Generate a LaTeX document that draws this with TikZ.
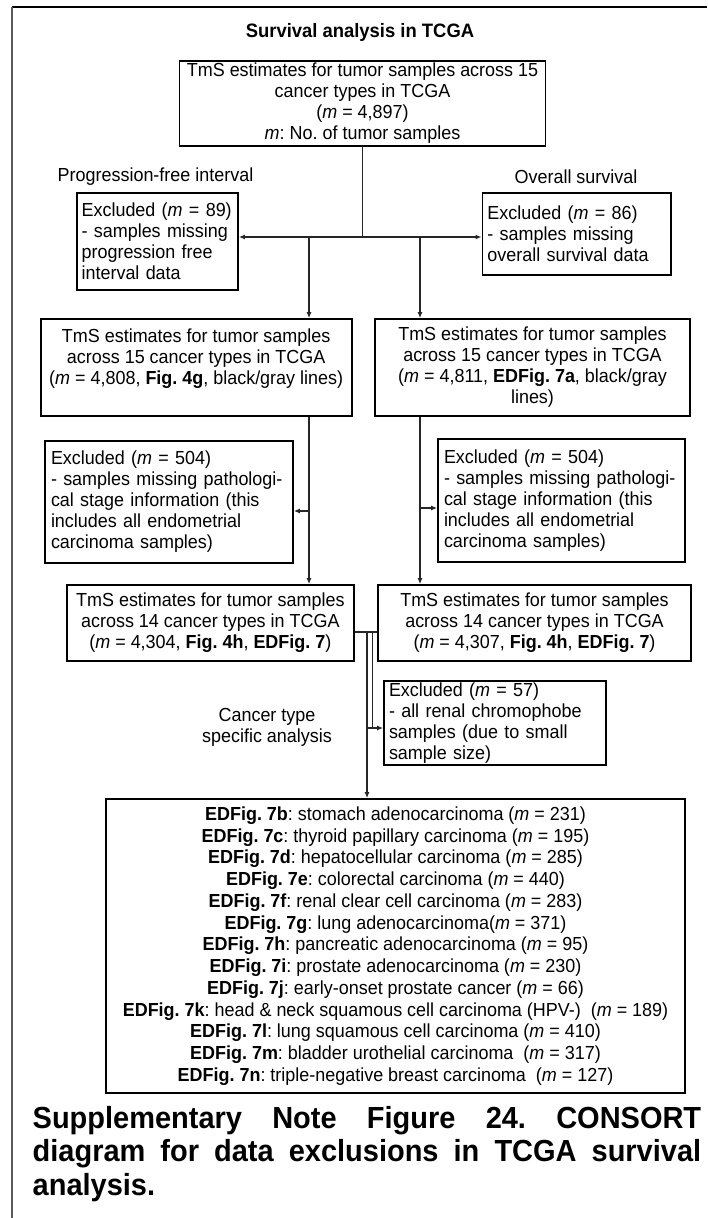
\documentclass[tikz,border=0pt]{standalone}
\usepackage{fontspec}
\setmainfont{Liberation Sans}[FakeStretch=0.95]
\usetikzlibrary{arrows.meta}
\frenchspacing
\begin{document}
\begin{tikzpicture}[x=1pt,y=-1pt,
  every node/.style={inner sep=0pt, font=\fontsize{18.9}{21}\selectfont},
  lbl/.style={align=center},
  box/.style={draw=black, line width=1.8pt, align=center},
  lbox/.style={draw=black, line width=1.8pt, align=left, inner xsep=5pt},
  link/.style={line width=1.2pt, draw=black!85},
  arr/.style={link, -{Latex[length=6pt,width=5pt]}},
]
\useasboundingbox (0,0) rectangle (707,1218);

% outer frame (top and left edges)
\draw[line width=2pt] (12,6.5) -- (707,6.5);
\draw[line width=2.5pt, black!65] (12,6.5) -- (12,1218);

% heading and branch labels
\node[font=\bfseries\fontsize{19.4}{21}\selectfont] (title) at (360,32) {Survival analysis in TCGA};
\node[lbl] (pfilab) at (155.5,177) {Progression-free interval};
\node[lbl] (oslab) at (576,177) {Overall survival};

% all samples
\node[box, minimum width=366pt, minimum height=85pt] (top) at (362.5,103.5)
  {TmS estimates for tumor samples across 15\\cancer types in TCGA\\(\textit{m} = 4,897)\\\textit{m}: No. of tumor samples};

% first exclusions
\node[lbox, minimum width=161.4pt, minimum height=97pt, text width=151.4pt] (ex89) at (157.3,241.5)
  {Excluded (\textit{m} = 89)\\- samples missing\\progression free\\interval data};
\node[lbox, minimum width=188.6pt, minimum height=82pt, text width=178.6pt] (ex86) at (576.7,234)
  {Excluded (\textit{m} = 86)\\- samples missing\\overall survival data};

% 15 cancer types
\node[box, minimum width=311.1pt, minimum height=97pt] (pfi) at (196.15,367.5)
  {TmS estimates for tumor samples\\across 15 cancer types in TCGA\\(\textit{m} = 4,808, \textbf{Fig. 4g}, black/gray lines)\\\mbox{}};
\node[box, minimum width=315pt, minimum height=97pt] (os) at (532.5,367.5)
  {TmS estimates for tumor samples\\across 15 cancer types in TCGA\\(\textit{m} = 4,811, \textbf{EDFig. 7a}, black/gray\\lines)};

% stage exclusions
\node[lbox, minimum width=248pt, minimum height=122pt, text width=236pt, inner xsep=6pt] (ex504l) at (169,502)
  {Excluded (\textit{m} = 504)\\- samples missing pathologi-\\cal stage information (this\\includes all endometrial\\carcinoma samples)};
\node[lbox, minimum width=247pt, minimum height=123pt, text width=235pt, inner xsep=6pt] (ex504r) at (561.5,500.5)
  {Excluded (\textit{m} = 504)\\- samples missing pathologi-\\cal stage information (this\\includes all endometrial\\carcinoma samples)};

% 14 cancer types
\node[box, minimum width=287.3pt, minimum height=76pt] (b14l) at (210.35,623)
  {TmS estimates for tumor samples\\across 14 cancer types in TCGA\\(\textit{m} = 4,304, \textbf{Fig. 4h}, \textbf{EDFig. 7})};
\node[box, minimum width=313pt, minimum height=76pt] (b14r) at (534.5,623)
  {TmS estimates for tumor samples\\across 14 cancer types in TCGA\\(\textit{m} = 4,307, \textbf{Fig. 4h}, \textbf{EDFig. 7})};

% cancer type specific branch
\node[lbl] (ctlab) at (267,727.5) {Cancer type\\specific analysis};
\node[lbox, minimum width=222pt, minimum height=84pt, text width=212pt] (ex57) at (495,723)
  {Excluded (\textit{m} = 57)\\- all renal chromophobe\\samples (due to small\\sample size)};

\node[box, minimum width=579pt, minimum height=294pt, font=\fontsize{18.9}{21.75}\selectfont] (final) at (395.5,946)
  {\textbf{EDFig. 7b}: stomach adenocarcinoma (\textit{m} = 231)\\
   \textbf{EDFig. 7c}: thyroid papillary carcinoma (\textit{m} = 195)\\
   \textbf{EDFig. 7d}: hepatocellular carcinoma (\textit{m} = 285)\\
   \textbf{EDFig. 7e}: colorectal carcinoma (\textit{m} = 440)\\
   \textbf{EDFig. 7f}: renal clear cell carcinoma (\textit{m} = 283)\\
   \textbf{EDFig. 7g}: lung adenocarcinoma(\textit{m} = 371)\\
   \textbf{EDFig. 7h}: pancreatic adenocarcinoma (\textit{m} = 95)\\
   \textbf{EDFig. 7i}: prostate adenocarcinoma (\textit{m} = 230)\\
   \textbf{EDFig. 7j}: early-onset prostate cancer (\textit{m} = 66)\\
   \textbf{EDFig. 7k}: head \& neck squamous cell carcinoma (HPV-)\ \ (\textit{m} = 189)\\
   \textbf{EDFig. 7l}: lung squamous cell carcinoma (\textit{m} = 410)\\
   \textbf{EDFig. 7m}: bladder urothelial carcinoma\ \ (\textit{m} = 317)\\
   \textbf{EDFig. 7n}: triple-negative breast carcinoma\ \ (\textit{m} = 127)};

% caption
\node[anchor=north west, text width=668.5pt, align=justify,
      font=\bfseries\fontsize{30.5}{33.5}\selectfont] (caption) at (32.5,1106)
  {Supplementary Note Figure 24. CONSORT\linebreak diagram for data exclusions in TCGA survival\linebreak analysis.};

% connectors
\coordinate (hy) at (0,237);
\coordinate (pl) at (309,237);
\coordinate (pr) at (420,237);
\coordinate (bl) at (309,511);
\coordinate (br) at (420,508);
\coordinate (hz) at (0,632);
\coordinate (v1) at (367,632);
\coordinate (v2) at (372.5,632);
\coordinate (a57) at (367,728);
\coordinate (e57) at (372.5,728);

\draw[link] (top.south) -- (top.south |- hy) coordinate (j);
\draw[arr] (j) -- (ex89.east |- hy);
\draw[arr] (j) -- (ex86.west |- hy);
\draw[arr] (pl) -- (pl |- pfi.north);
\draw[arr] (pr) -- (pr |- os.north);

\draw[arr] (pl |- pfi.south) -- (pl |- b14l.north);
\draw[arr] (pr |- os.south) -- (pr |- b14r.north);
\draw[arr] (bl) -- (bl -| ex504l.east);
\draw[arr] (br) -- (br -| ex504r.west);

\draw[link] (b14l.east |- hz) -- (b14r.west |- hz);
\draw[arr] (v1) -- (v1 |- final.north);
\draw[link] (v2) -- (e57);
\draw[arr] (a57) -- (a57 -| ex57.west);
\end{tikzpicture}
\end{document}
